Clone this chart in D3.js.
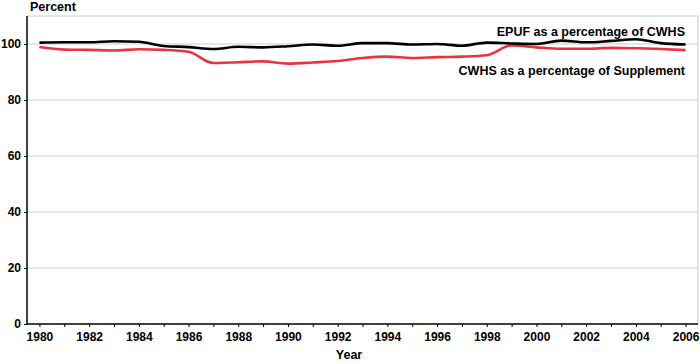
<!DOCTYPE html>
<html><head><meta charset="utf-8">
<script src="https://cdn.jsdelivr.net/npm/d3@7"></script>
<style>body{margin:0;background:#fff}svg{display:block}text{font-family:"Liberation Sans",Arial,sans-serif}</style>
</head><body><svg id="c" width="700" height="363"></svg>
<script>
const years = d3.range(1980, 2007);
const epuf = [100.5,100.6,100.6,101.0,100.8,99.3,98.9,98.2,99.0,98.8,99.2,99.8,99.4,100.3,100.3,99.8,100.0,99.4,100.5,100.2,100.0,101.2,100.6,101.1,101.7,100.3,99.8];
const cwhs = [98.9,98.0,97.9,97.7,98.1,97.9,97.2,93.2,93.5,93.8,93.0,93.4,93.9,95.0,95.5,95.0,95.3,95.5,96.0,99.5,98.8,98.3,98.3,98.6,98.5,98.2,97.8];
const yTicks = [0,20,40,60,80,100];
const seriesLabels = ["EPUF as a percentage of CWHS","CWHS as a percentage of Supplement"];

const svg = d3.select("#c");
const L=27,R=698,T=16,B=324;
const x = d3.scaleLinear().domain([1979.5,2006.5]).range([L,R]);
const y = d3.scaleLinear().domain([0,110]).range([B,T]);

// gridlines
svg.append("g").selectAll("line").data(yTicks.filter(d=>d>0).concat([110])).join("line")
  .attr("x1",L).attr("x2",R).attr("y1",d=>y(d)).attr("y2",d=>y(d))
  .attr("stroke","#cccccc").attr("stroke-width",1);
svg.append("line").attr("x1",R).attr("x2",R).attr("y1",T).attr("y2",B).attr("stroke","#cccccc");

// y axis
const ya = svg.append("g").attr("transform",`translate(${L},0)`)
  .call(d3.axisLeft(y).tickValues(yTicks).tickSize(3).tickPadding(3));
ya.select(".domain").attr("d",`M0,${T}V${B}`).attr("stroke","#000").attr("stroke-width",1.5);
ya.selectAll("text").attr("font-size",12).attr("font-weight","bold").attr("fill","#000");

// x axis
const xa = svg.append("g").attr("transform",`translate(0,${B})`)
  .call(d3.axisBottom(x).tickValues(years).tickSize(3).tickPadding(5).tickFormat(d=>d%2===0?d:""));
xa.select(".domain").attr("d",`M${L},0H${R}`).attr("stroke","#000").attr("stroke-width",1.5);
xa.selectAll("text").attr("font-size",12).attr("font-weight","bold").attr("fill","#000");

const line = d3.line().x((d,i)=>x(years[i])).y(d=>y(d)).curve(d3.curveMonotoneX);
svg.append("path").datum(cwhs).attr("d",line).attr("fill","none").attr("stroke","#e8343f").attr("stroke-width",2.6);
svg.append("path").datum(epuf).attr("d",line).attr("fill","none").attr("stroke","#000").attr("stroke-width",2.6);

svg.append("text").attr("x",685).attr("y",36).attr("text-anchor","end").attr("font-size",12.5).attr("font-weight","bold").text(seriesLabels[0]);
svg.append("text").attr("x",685).attr("y",75).attr("text-anchor","end").attr("font-size",12.5).attr("font-weight","bold").text(seriesLabels[1]);

svg.append("text").attr("x",30).attr("y",11).attr("font-size",12.5).attr("font-weight","bold").text("Percent");
svg.append("text").attr("x",349).attr("y",359).attr("font-size",12.5).attr("font-weight","bold").attr("text-anchor","middle").text("Year");
</script></body></html>
